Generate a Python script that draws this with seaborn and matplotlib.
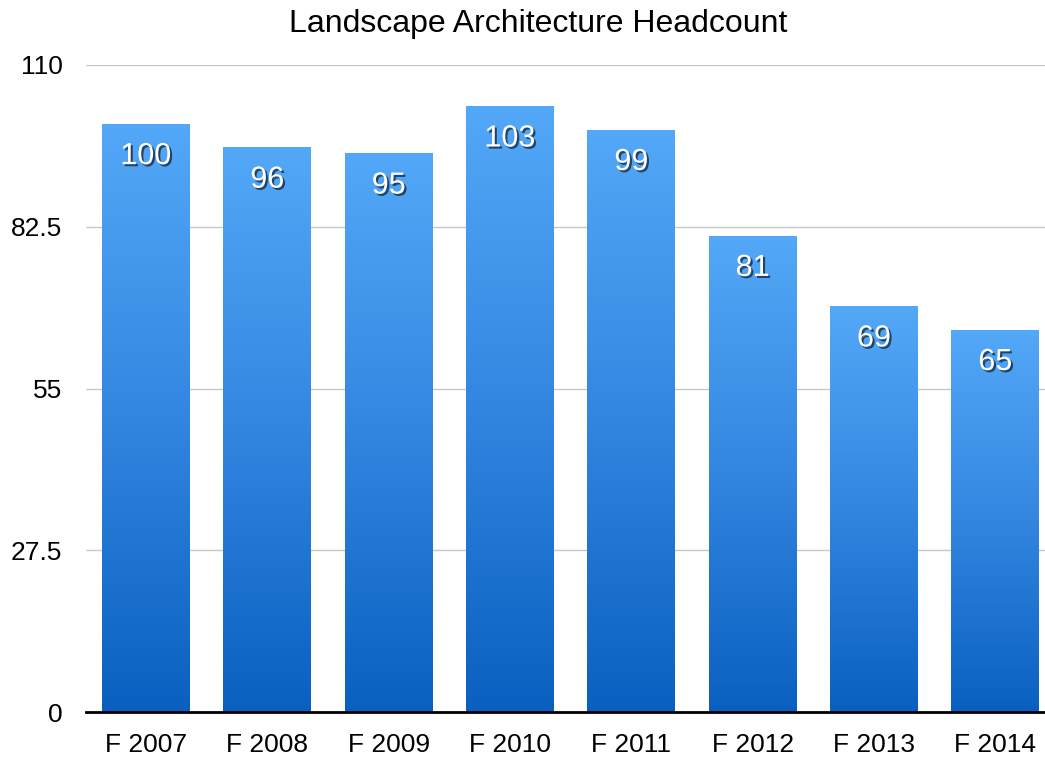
import numpy as np
import pandas as pd
import matplotlib
matplotlib.use("Agg")
import matplotlib.pyplot as plt
import matplotlib.patheffects as pe
from matplotlib.colors import LinearSegmentedColormap
import seaborn as sns

terms = ["F 2007", "F 2008", "F 2009", "F 2010", "F 2011", "F 2012", "F 2013", "F 2014"]
headcount = [100, 96, 95, 103, 99, 81, 69, 65]
y_ticks = [0, 27.5, 55, 82.5, 110]
y_tick_labels = ["0", "27.5", "55", "82.5", "110"]

df = pd.DataFrame({"term": terms, "headcount": headcount})

sns.set_theme(style="white")
plt.rcParams["font.family"] = ["Liberation Sans", "DejaVu Sans"]

fig = plt.figure(figsize=(10.45, 7.59), dpi=100)
ax = fig.add_axes([86 / 1045, 47 / 759, 1 - 86 / 1045, 647 / 759])

sns.barplot(data=df, x="term", y="headcount", ax=ax, width=0.725,
            color="#3a8ae0", saturation=1)

# vertical gradient fill inside each bar, light at the top, dark at the base
cmap = LinearSegmentedColormap.from_list("bar_grad", ["#0a60c0", "#3286e0", "#53a8f8"])
grad = np.linspace(0, 1, 256).reshape(-1, 1)
for patch in ax.patches:
    x0, y0 = patch.get_x(), patch.get_y()
    w, h = patch.get_width(), patch.get_height()
    img = ax.imshow(grad, cmap=cmap, origin="lower", aspect="auto",
                    extent=(x0, x0 + w, y0, y0 + h), zorder=patch.get_zorder() + 0.1)
    img.set_clip_path(patch)
    patch.set_edgecolor("none")

ax.set_xlim(-0.494, len(terms) - 0.59)
ax.set_ylim(0, 110)
ax.set_yticks(y_ticks)
ax.set_yticklabels(y_tick_labels)
ax.yaxis.grid(True, color="#c8c8c8", linewidth=1)
ax.set_axisbelow(True)

for side in ["left", "right", "top"]:
    ax.spines[side].set_visible(False)
ax.spines["bottom"].set_color("black")
ax.spines["bottom"].set_linewidth(2)
ax.spines["bottom"].set_zorder(5)

ax.tick_params(axis="both", length=0, labelsize=19, colors="black")
ax.tick_params(axis="x", pad=15)
ax.tick_params(axis="y", pad=17)
ax.set_xlabel("")
ax.set_ylabel("")

for i, v in enumerate(headcount):
    ax.text(i, v - 5.5, str(v), ha="center", va="center", color="white",
            fontsize=22, zorder=10,
            path_effects=[pe.withSimplePatchShadow(offset=(1.5, -1.5),
                                                   shadow_rgbFace="#1a2a40", alpha=0.8)])

fig.text(538 / 1045, 1 - 24 / 759, "Landscape Architecture Headcount",
         ha="center", va="center", fontsize=23, color="black")

fig.savefig("out.png", dpi=100, facecolor="white")
